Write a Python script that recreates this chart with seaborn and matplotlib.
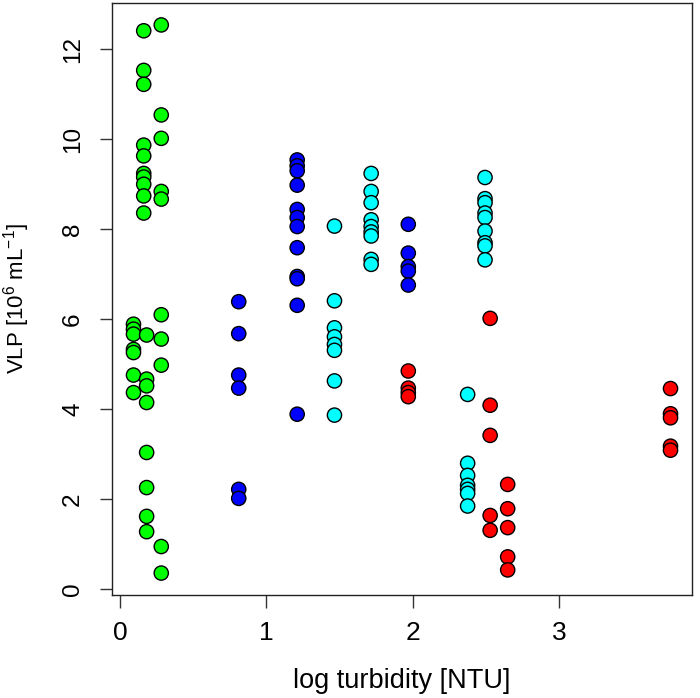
import pandas as pd
import matplotlib
matplotlib.use("Agg")
import matplotlib.pyplot as plt
import seaborn as sns

# values, one column of points per sampling group
green_x = [0.16] * 10 + [0.28] * 10 + [0.09] * 7 + [0.18] * 8
green_y = [12.41, 11.53, 11.22, 9.87, 9.63, 9.24, 9.16, 9.00, 8.74, 8.36,
           12.54, 10.54, 10.02, 8.84, 8.67, 6.10, 5.56, 4.98, 0.95, 0.36,
           5.89, 5.78, 5.67, 5.33, 5.26, 4.76, 4.37,
           5.65, 4.67, 4.52, 4.15, 3.04, 2.26, 1.62, 1.28]

blue_x = [0.81] * 6 + [1.21] * 12 + [1.97] * 5
blue_y = [6.39, 5.68, 4.76, 4.47, 2.22, 2.02,
          9.54, 9.41, 9.30, 8.98, 8.44, 8.26, 8.06, 7.59, 6.95, 6.90, 6.31, 3.89,
          8.11, 7.47, 7.17, 7.07, 6.76]

cyan_x = [1.465] * 8 + [1.716] * 9 + [2.376] * 7 + [2.495] * 9
cyan_y = [8.07, 6.41, 5.81, 5.61, 5.44, 5.31, 4.63, 3.87,
          9.24, 8.84, 8.59, 8.21, 8.06, 7.94, 7.85, 7.33, 7.22,
          4.33, 2.80, 2.53, 2.31, 2.22, 2.13, 1.85,
          9.15, 8.68, 8.59, 8.36, 8.26, 7.96, 7.70, 7.63, 7.32]

red_x = [1.97] * 4 + [2.53] * 5 + [2.65] * 5 + [3.764] * 5
red_y = [4.85, 4.47, 4.37, 4.28,
         6.02, 4.09, 3.42, 1.64, 1.31,
         2.33, 1.79, 1.37, 0.72, 0.43,
         4.46, 3.90, 3.81, 3.18, 3.09]

x_ticks = [0, 1, 2, 3]
y_ticks = [0, 2, 4, 6, 8, 10, 12]

group_colors = {"green": "#00FF00", "blue": "#0000FF", "cyan": "#00FFFF", "red": "#FF0000"}

frames = []
for name, xs, ys in [("green", green_x, green_y), ("blue", blue_x, blue_y),
                     ("cyan", cyan_x, cyan_y), ("red", red_x, red_y)]:
    frames.append(pd.DataFrame({"turb": xs, "vlp": ys, "grp": name}))
df = pd.concat(frames, ignore_index=True)

sns.set_theme(style="ticks")
plt.rcParams["font.family"] = ["Liberation Sans", "DejaVu Sans"]
plt.rcParams["mathtext.fontset"] = "custom"
plt.rcParams["mathtext.rm"] = "Liberation Sans"
plt.rcParams["text.color"] = "black"
plt.rcParams["axes.labelcolor"] = "black"
plt.rcParams["xtick.color"] = "black"
plt.rcParams["ytick.color"] = "black"

fig = plt.figure(figsize=(7.0, 6.98), dpi=100)
ax = fig.add_axes([112 / 700, 103 / 698, 580 / 700, 592 / 698])

sns.scatterplot(data=df, x="turb", y="vlp", hue="grp", palette=group_colors,
                s=105, edgecolor="black", linewidth=1.0, legend=False, ax=ax)

ax.margins(x=0.04, y=0.04)
ax.set_xticks(x_ticks)
ax.set_yticks(y_ticks)
ax.set_xticklabels([str(t) for t in x_ticks], fontsize=19)
ax.set_yticklabels([str(t) for t in y_ticks], fontsize=17.5, rotation=90, va="center")
ax.tick_params(direction="out", length=9, width=1, color="#333333")
ax.tick_params(axis="x", pad=10)
ax.tick_params(axis="y", pad=11)

for sp in ax.spines.values():
    sp.set_visible(True)
    sp.set_color("#222222")
    sp.set_linewidth(1.0)

ax.set_xlabel("log turbidity [NTU]", fontsize=19.5, labelpad=16)
ax.set_ylabel(r"VLP [10$^{6}$ mL$^{-1}$]", fontsize=16, labelpad=22)

fig.savefig("out.png", dpi=100, facecolor="white")
